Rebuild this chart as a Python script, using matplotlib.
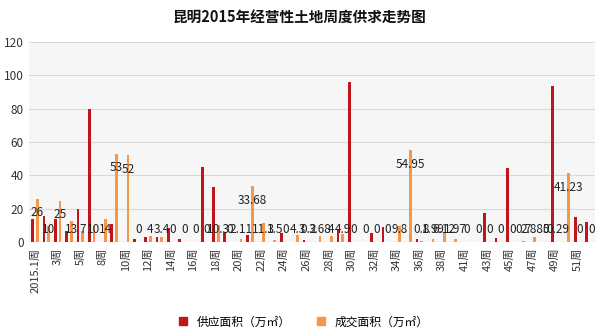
import numpy as np
import matplotlib
matplotlib.use('Agg')
import matplotlib.pyplot as plt
from matplotlib.lines import Line2D

plt.rcParams['font.family'] = ['Noto Sans CJK SC', 'DejaVu Sans']

# 周次（横轴类别）
weeks = [1, 2, 3, 4, 5, 7, 8, 9, 10, 11, 12, 13, 14, 15, 16, 17, 18, 19, 20, 21,
         22, 23, 24, 25, 26, 27, 28, 29, 30, 31, 32, 33, 34, 35, 36, 37, 38, 40, 41, 42,
         43, 44, 45, 46, 47, 48, 49, 50, 51, 52]
week_labels = ['2015.1周' if w == 1 else f'{w}周' for w in weeks]

# 供应面积（万㎡）
supply = [14, 16, 14, 7, 20, 80, 0, 11, 0, 1.8, 3, 3.4, 8.4, 2, 0, 45, 33, 6, 0, 4.4,
          0, 0, 5.4, 0, 1.4, 0, 0, 7.4, 96, 0.3, 5.4, 9.3, 0, 0, 1.8, 0, 0, 0, 0, 0,
          17.7, 2.4, 44.3, 0, 0, 0, 93.5, 0, 15, 12]

# 成交面积（万㎡）
deal = [26, 10, 25, 13, 7, 10, 14, 53, 52, 0, 4, 3.4, 0, 0, 0, 0, 10.3, 0, 2.11, 33.68,
        11.3, 1.5, 0, 4.3, 0.2, 3.68, 4, 4.9, 0, 0, 0, 0, 9.8, 54.95, 0.8, 1.99, 6.12, 1.97, 0, 0,
        0, 0, 0, 0.7, 2.885, 0, 0.29, 41.23, 0, 0]

red = '#C0161B'
orange = '#F79646'

fig = plt.figure(figsize=(6, 3.34), dpi=100)
ax = fig.add_axes([0.049, 0.2746, 0.942, 0.6004])
ax.set_facecolor('#f6f6f6')

x = np.arange(len(weeks))
w = 0.24
ax.bar(x - 0.21, supply, width=w, color=red, zorder=3)
ax.bar(x + 0.21, deal, width=w, color=orange, zorder=3)

# 成交面积数据标签（柱内顶端，矮柱则贴近底部）
for xi, v in zip(x, deal):
    ax.text(xi + 0.21, max(v - 8.4, 7.8), f'{v:g}', ha='center', va='center',
            fontsize=8.5, color='#222222', zorder=4)

ax.set_xlim(-0.5, len(weeks) - 0.5)
ax.set_ylim(0, 120)
ax.set_yticks(range(0, 121, 20))
ax.tick_params(axis='y', length=0, labelsize=8.5, colors='#333333', pad=4)

ax.set_xticks(x[::2])
ax.set_xticklabels(week_labels[::2], rotation=90, fontsize=8, color='#333333')
ax.tick_params(axis='x', length=0, pad=4)

ax.grid(axis='y', color='#d9d9d9', linewidth=0.8, zorder=0)
for s in ax.spines.values():
    s.set_visible(False)
ax.axhline(0, color='#d0d0d0', linewidth=0.8, zorder=2)

fig.text(0.5, 0.948, '昆明2015年经营性土地周度供求走势图', ha='center', va='center',
         fontsize=10.5, fontweight='bold', color='#111111')

handles = [Line2D([], [], marker='s', linestyle='', color=red, markersize=6),
           Line2D([], [], marker='s', linestyle='', color=orange, markersize=6)]
fig.legend(handles, ['供应面积（万㎡）', '成交面积（万㎡）'], loc='center',
           bbox_to_anchor=(0.5, 0.036), ncol=2, frameon=False, fontsize=8.5,
           handletextpad=0.2, columnspacing=1.5)

fig.savefig('out.png', dpi=100)
